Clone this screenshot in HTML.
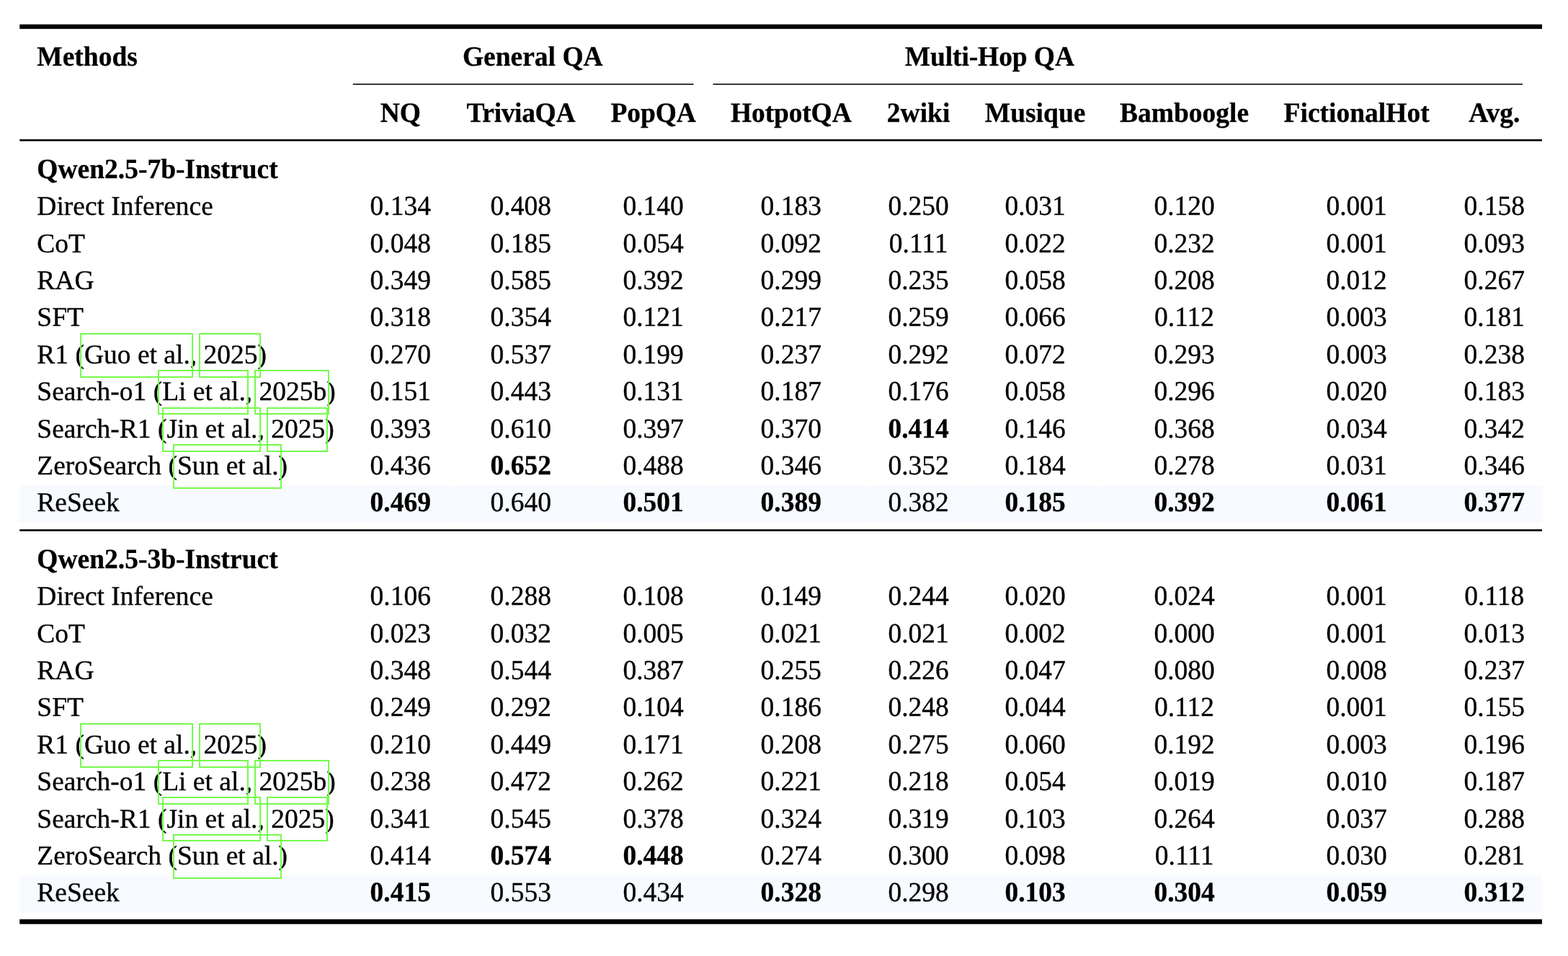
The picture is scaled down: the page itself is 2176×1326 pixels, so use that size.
<!DOCTYPE html>
<html lang="en">
<head>
<meta charset="utf-8">
<title>Results table</title>
<style>
html,body{margin:0;padding:0;background:#fff;width:2176px;height:1326px;overflow:hidden;}
#page{width:2176px;height:1326px;position:relative;overflow:hidden;background:#fff;
 font-family:"Liberation Serif",serif;font-size:37.5px;color:#000;
 text-rendering:geometricPrecision;font-kerning:normal;}
svg.bg{position:absolute;left:0;top:0;}
.t{position:absolute;white-space:pre;line-height:44px;height:44px;-webkit-text-stroke:0.35px #000;transform:scaleY(1.0);transform-origin:0 33px;}
.c{width:300px;text-align:center;}
.n{transform:scaleY(1.02);}
.b{font-weight:bold;-webkit-text-stroke:0.3px #000;transform:scaleY(1.03);}
.g{position:absolute;box-sizing:border-box;border:2px solid #75fb4c;}
</style>
</head>
<body>
<div id="page">
<svg class="bg" width="2176" height="1326" viewBox="0 0 2176 1326">
<rect x="27.25" y="673.3" width="2112.75" height="51.5" fill="#f7fafe"/>
<rect x="489.4" y="673.3" width="1" height="51.5" fill="#fafbfe"/>
<rect x="622" y="673.3" width="1" height="51.5" fill="#fafbfe"/>
<rect x="822.6" y="673.3" width="1" height="51.5" fill="#fafbfe"/>
<rect x="989.6" y="673.3" width="1" height="51.5" fill="#fafbfe"/>
<rect x="1205" y="673.3" width="1" height="51.5" fill="#fafbfe"/>
<rect x="1343.2" y="673.3" width="1" height="51.5" fill="#fafbfe"/>
<rect x="1529" y="673.3" width="1" height="51.5" fill="#fafbfe"/>
<rect x="1757.2" y="673.3" width="1" height="51.5" fill="#fafbfe"/>
<rect x="2007.2" y="673.3" width="1" height="51.5" fill="#fafbfe"/>
<rect x="27.25" y="1214.4" width="2112.75" height="51.3" fill="#f7fafe"/>
<rect x="489.4" y="1214.4" width="1" height="51.3" fill="#fafbfe"/>
<rect x="622" y="1214.4" width="1" height="51.3" fill="#fafbfe"/>
<rect x="822.6" y="1214.4" width="1" height="51.3" fill="#fafbfe"/>
<rect x="989.6" y="1214.4" width="1" height="51.3" fill="#fafbfe"/>
<rect x="1205" y="1214.4" width="1" height="51.3" fill="#fafbfe"/>
<rect x="1343.2" y="1214.4" width="1" height="51.3" fill="#fafbfe"/>
<rect x="1529" y="1214.4" width="1" height="51.3" fill="#fafbfe"/>
<rect x="1757.2" y="1214.4" width="1" height="51.3" fill="#fafbfe"/>
<rect x="2007.2" y="1214.4" width="1" height="51.3" fill="#fafbfe"/>
<rect x="27.25" y="33.8" width="2112.75" height="6.3" fill="#000"/>
<rect x="489.75" y="116" width="472.85" height="1.55" fill="#000"/>
<rect x="989.5" y="116" width="1123.5" height="1.55" fill="#000"/>
<rect x="27.25" y="193.2" width="2112.75" height="2.6" fill="#000"/>
<rect x="27.25" y="734.2" width="2112.75" height="2.6" fill="#000"/>
<rect x="27.25" y="1275.1" width="2112.75" height="6.6" fill="#000"/>
</svg>
<div class="t b" style="left:51.3px;top:58px">Methods</div>
<div class="t c b" style="left:589.3px;top:58px">General QA</div>
<div class="t c b" style="left:1223.3px;top:58px;letter-spacing:-0.1px">Multi-Hop QA</div>
<div class="t c b" style="left:405.8px;top:136px">NQ</div>
<div class="t c b" style="left:572.8px;top:136px;letter-spacing:-0.35px">TriviaQA</div>
<div class="t c b" style="left:756.6px;top:136px;letter-spacing:-0.15px">PopQA</div>
<div class="t c b" style="left:947.8px;top:136px;letter-spacing:-0.15px">HotpotQA</div>
<div class="t c b" style="left:1124.6px;top:136px">2wiki</div>
<div class="t c b" style="left:1286.6px;top:136px">Musique</div>
<div class="t c b" style="left:1493.6px;top:136px">Bamboogle</div>
<div class="t c b" style="left:1732.6px;top:136px">FictionalHot</div>
<div class="t c b" style="left:1973.8px;top:136px;width:200px">Avg.</div>
<div class="t b" style="left:51.3px;top:214px">Qwen2.5-7b-Instruct</div>
<div class="t" style="left:51.3px;top:265px">Direct Inference</div>
<div class="t c n" style="left:405.8px;top:265px">0.134</div>
<div class="t c n" style="left:572.8px;top:265px">0.408</div>
<div class="t c n" style="left:756.6px;top:265px">0.140</div>
<div class="t c n" style="left:947.8px;top:265px">0.183</div>
<div class="t c n" style="left:1124.6px;top:265px">0.250</div>
<div class="t c n" style="left:1286.6px;top:265px">0.031</div>
<div class="t c n" style="left:1493.6px;top:265px">0.120</div>
<div class="t c n" style="left:1732.6px;top:265px">0.001</div>
<div class="t c n" style="left:1973.8px;top:265px;width:200px">0.158</div>
<div class="t" style="left:51.3px;top:317px">CoT</div>
<div class="t c n" style="left:405.8px;top:317px">0.048</div>
<div class="t c n" style="left:572.8px;top:317px">0.185</div>
<div class="t c n" style="left:756.6px;top:317px">0.054</div>
<div class="t c n" style="left:947.8px;top:317px">0.092</div>
<div class="t c n" style="left:1124.6px;top:317px">0.111</div>
<div class="t c n" style="left:1286.6px;top:317px">0.022</div>
<div class="t c n" style="left:1493.6px;top:317px">0.232</div>
<div class="t c n" style="left:1732.6px;top:317px">0.001</div>
<div class="t c n" style="left:1973.8px;top:317px;width:200px">0.093</div>
<div class="t" style="left:51.3px;top:368px">RAG</div>
<div class="t c n" style="left:405.8px;top:368px">0.349</div>
<div class="t c n" style="left:572.8px;top:368px">0.585</div>
<div class="t c n" style="left:756.6px;top:368px">0.392</div>
<div class="t c n" style="left:947.8px;top:368px">0.299</div>
<div class="t c n" style="left:1124.6px;top:368px">0.235</div>
<div class="t c n" style="left:1286.6px;top:368px">0.058</div>
<div class="t c n" style="left:1493.6px;top:368px">0.208</div>
<div class="t c n" style="left:1732.6px;top:368px">0.012</div>
<div class="t c n" style="left:1973.8px;top:368px;width:200px">0.267</div>
<div class="t" style="left:51.3px;top:419px">SFT</div>
<div class="t c n" style="left:405.8px;top:419px">0.318</div>
<div class="t c n" style="left:572.8px;top:419px">0.354</div>
<div class="t c n" style="left:756.6px;top:419px">0.121</div>
<div class="t c n" style="left:947.8px;top:419px">0.217</div>
<div class="t c n" style="left:1124.6px;top:419px">0.259</div>
<div class="t c n" style="left:1286.6px;top:419px">0.066</div>
<div class="t c n" style="left:1493.6px;top:419px">0.112</div>
<div class="t c n" style="left:1732.6px;top:419px">0.003</div>
<div class="t c n" style="left:1973.8px;top:419px;width:200px">0.181</div>
<div class="t" style="left:51.3px;top:471px">R1 (Guo et al., 2025)</div>
<div class="t c n" style="left:405.8px;top:471px">0.270</div>
<div class="t c n" style="left:572.8px;top:471px">0.537</div>
<div class="t c n" style="left:756.6px;top:471px">0.199</div>
<div class="t c n" style="left:947.8px;top:471px">0.237</div>
<div class="t c n" style="left:1124.6px;top:471px">0.292</div>
<div class="t c n" style="left:1286.6px;top:471px">0.072</div>
<div class="t c n" style="left:1493.6px;top:471px">0.293</div>
<div class="t c n" style="left:1732.6px;top:471px">0.003</div>
<div class="t c n" style="left:1973.8px;top:471px;width:200px">0.238</div>
<div class="t" style="left:51.3px;top:522px">Search-o1 (Li et al., 2025b)</div>
<div class="t c n" style="left:405.8px;top:522px">0.151</div>
<div class="t c n" style="left:572.8px;top:522px">0.443</div>
<div class="t c n" style="left:756.6px;top:522px">0.131</div>
<div class="t c n" style="left:947.8px;top:522px">0.187</div>
<div class="t c n" style="left:1124.6px;top:522px">0.176</div>
<div class="t c n" style="left:1286.6px;top:522px">0.058</div>
<div class="t c n" style="left:1493.6px;top:522px">0.296</div>
<div class="t c n" style="left:1732.6px;top:522px">0.020</div>
<div class="t c n" style="left:1973.8px;top:522px;width:200px">0.183</div>
<div class="t" style="left:51.3px;top:574px">Search-R1 (Jin et al., 2025)</div>
<div class="t c n" style="left:405.8px;top:574px">0.393</div>
<div class="t c n" style="left:572.8px;top:574px">0.610</div>
<div class="t c n" style="left:756.6px;top:574px">0.397</div>
<div class="t c n" style="left:947.8px;top:574px">0.370</div>
<div class="t c n b" style="left:1124.6px;top:574px">0.414</div>
<div class="t c n" style="left:1286.6px;top:574px">0.146</div>
<div class="t c n" style="left:1493.6px;top:574px">0.368</div>
<div class="t c n" style="left:1732.6px;top:574px">0.034</div>
<div class="t c n" style="left:1973.8px;top:574px;width:200px">0.342</div>
<div class="t" style="left:51.3px;top:625px">ZeroSearch (Sun et al.)</div>
<div class="t c n" style="left:405.8px;top:625px">0.436</div>
<div class="t c n b" style="left:572.8px;top:625px">0.652</div>
<div class="t c n" style="left:756.6px;top:625px">0.488</div>
<div class="t c n" style="left:947.8px;top:625px">0.346</div>
<div class="t c n" style="left:1124.6px;top:625px">0.352</div>
<div class="t c n" style="left:1286.6px;top:625px">0.184</div>
<div class="t c n" style="left:1493.6px;top:625px">0.278</div>
<div class="t c n" style="left:1732.6px;top:625px">0.031</div>
<div class="t c n" style="left:1973.8px;top:625px;width:200px">0.346</div>
<div class="t" style="left:51.3px;top:676px">ReSeek</div>
<div class="t c n b" style="left:405.8px;top:676px">0.469</div>
<div class="t c n" style="left:572.8px;top:676px">0.640</div>
<div class="t c n b" style="left:756.6px;top:676px">0.501</div>
<div class="t c n b" style="left:947.8px;top:676px">0.389</div>
<div class="t c n" style="left:1124.6px;top:676px">0.382</div>
<div class="t c n b" style="left:1286.6px;top:676px">0.185</div>
<div class="t c n b" style="left:1493.6px;top:676px">0.392</div>
<div class="t c n b" style="left:1732.6px;top:676px">0.061</div>
<div class="t c n b" style="left:1973.8px;top:676px;width:200px">0.377</div>
<div class="t b" style="left:51.3px;top:755px">Qwen2.5-3b-Instruct</div>
<div class="t" style="left:51.3px;top:806px">Direct Inference</div>
<div class="t c n" style="left:405.8px;top:806px">0.106</div>
<div class="t c n" style="left:572.8px;top:806px">0.288</div>
<div class="t c n" style="left:756.6px;top:806px">0.108</div>
<div class="t c n" style="left:947.8px;top:806px">0.149</div>
<div class="t c n" style="left:1124.6px;top:806px">0.244</div>
<div class="t c n" style="left:1286.6px;top:806px">0.020</div>
<div class="t c n" style="left:1493.6px;top:806px">0.024</div>
<div class="t c n" style="left:1732.6px;top:806px">0.001</div>
<div class="t c n" style="left:1973.8px;top:806px;width:200px">0.118</div>
<div class="t" style="left:51.3px;top:858px">CoT</div>
<div class="t c n" style="left:405.8px;top:858px">0.023</div>
<div class="t c n" style="left:572.8px;top:858px">0.032</div>
<div class="t c n" style="left:756.6px;top:858px">0.005</div>
<div class="t c n" style="left:947.8px;top:858px">0.021</div>
<div class="t c n" style="left:1124.6px;top:858px">0.021</div>
<div class="t c n" style="left:1286.6px;top:858px">0.002</div>
<div class="t c n" style="left:1493.6px;top:858px">0.000</div>
<div class="t c n" style="left:1732.6px;top:858px">0.001</div>
<div class="t c n" style="left:1973.8px;top:858px;width:200px">0.013</div>
<div class="t" style="left:51.3px;top:909px">RAG</div>
<div class="t c n" style="left:405.8px;top:909px">0.348</div>
<div class="t c n" style="left:572.8px;top:909px">0.544</div>
<div class="t c n" style="left:756.6px;top:909px">0.387</div>
<div class="t c n" style="left:947.8px;top:909px">0.255</div>
<div class="t c n" style="left:1124.6px;top:909px">0.226</div>
<div class="t c n" style="left:1286.6px;top:909px">0.047</div>
<div class="t c n" style="left:1493.6px;top:909px">0.080</div>
<div class="t c n" style="left:1732.6px;top:909px">0.008</div>
<div class="t c n" style="left:1973.8px;top:909px;width:200px">0.237</div>
<div class="t" style="left:51.3px;top:960px">SFT</div>
<div class="t c n" style="left:405.8px;top:960px">0.249</div>
<div class="t c n" style="left:572.8px;top:960px">0.292</div>
<div class="t c n" style="left:756.6px;top:960px">0.104</div>
<div class="t c n" style="left:947.8px;top:960px">0.186</div>
<div class="t c n" style="left:1124.6px;top:960px">0.248</div>
<div class="t c n" style="left:1286.6px;top:960px">0.044</div>
<div class="t c n" style="left:1493.6px;top:960px">0.112</div>
<div class="t c n" style="left:1732.6px;top:960px">0.001</div>
<div class="t c n" style="left:1973.8px;top:960px;width:200px">0.155</div>
<div class="t" style="left:51.3px;top:1012px">R1 (Guo et al., 2025)</div>
<div class="t c n" style="left:405.8px;top:1012px">0.210</div>
<div class="t c n" style="left:572.8px;top:1012px">0.449</div>
<div class="t c n" style="left:756.6px;top:1012px">0.171</div>
<div class="t c n" style="left:947.8px;top:1012px">0.208</div>
<div class="t c n" style="left:1124.6px;top:1012px">0.275</div>
<div class="t c n" style="left:1286.6px;top:1012px">0.060</div>
<div class="t c n" style="left:1493.6px;top:1012px">0.192</div>
<div class="t c n" style="left:1732.6px;top:1012px">0.003</div>
<div class="t c n" style="left:1973.8px;top:1012px;width:200px">0.196</div>
<div class="t" style="left:51.3px;top:1063px">Search-o1 (Li et al., 2025b)</div>
<div class="t c n" style="left:405.8px;top:1063px">0.238</div>
<div class="t c n" style="left:572.8px;top:1063px">0.472</div>
<div class="t c n" style="left:756.6px;top:1063px">0.262</div>
<div class="t c n" style="left:947.8px;top:1063px">0.221</div>
<div class="t c n" style="left:1124.6px;top:1063px">0.218</div>
<div class="t c n" style="left:1286.6px;top:1063px">0.054</div>
<div class="t c n" style="left:1493.6px;top:1063px">0.019</div>
<div class="t c n" style="left:1732.6px;top:1063px">0.010</div>
<div class="t c n" style="left:1973.8px;top:1063px;width:200px">0.187</div>
<div class="t" style="left:51.3px;top:1115px">Search-R1 (Jin et al., 2025)</div>
<div class="t c n" style="left:405.8px;top:1115px">0.341</div>
<div class="t c n" style="left:572.8px;top:1115px">0.545</div>
<div class="t c n" style="left:756.6px;top:1115px">0.378</div>
<div class="t c n" style="left:947.8px;top:1115px">0.324</div>
<div class="t c n" style="left:1124.6px;top:1115px">0.319</div>
<div class="t c n" style="left:1286.6px;top:1115px">0.103</div>
<div class="t c n" style="left:1493.6px;top:1115px">0.264</div>
<div class="t c n" style="left:1732.6px;top:1115px">0.037</div>
<div class="t c n" style="left:1973.8px;top:1115px;width:200px">0.288</div>
<div class="t" style="left:51.3px;top:1166px">ZeroSearch (Sun et al.)</div>
<div class="t c n" style="left:405.8px;top:1166px">0.414</div>
<div class="t c n b" style="left:572.8px;top:1166px">0.574</div>
<div class="t c n b" style="left:756.6px;top:1166px">0.448</div>
<div class="t c n" style="left:947.8px;top:1166px">0.274</div>
<div class="t c n" style="left:1124.6px;top:1166px">0.300</div>
<div class="t c n" style="left:1286.6px;top:1166px">0.098</div>
<div class="t c n" style="left:1493.6px;top:1166px">0.111</div>
<div class="t c n" style="left:1732.6px;top:1166px">0.030</div>
<div class="t c n" style="left:1973.8px;top:1166px;width:200px">0.281</div>
<div class="t" style="left:51.3px;top:1217px">ReSeek</div>
<div class="t c n b" style="left:405.8px;top:1217px">0.415</div>
<div class="t c n" style="left:572.8px;top:1217px">0.553</div>
<div class="t c n" style="left:756.6px;top:1217px">0.434</div>
<div class="t c n b" style="left:947.8px;top:1217px">0.328</div>
<div class="t c n" style="left:1124.6px;top:1217px">0.298</div>
<div class="t c n b" style="left:1286.6px;top:1217px">0.103</div>
<div class="t c n b" style="left:1493.6px;top:1217px">0.304</div>
<div class="t c n b" style="left:1732.6px;top:1217px">0.059</div>
<div class="t c n b" style="left:1973.8px;top:1217px;width:200px">0.312</div>
<div class="g" style="left:111px;top:462px;width:157px;height:62px"></div>
<div class="g" style="left:276px;top:462px;width:86px;height:62px"></div>
<div class="g" style="left:219px;top:513px;width:126px;height:62px"></div>
<div class="g" style="left:353px;top:513px;width:104px;height:62px"></div>
<div class="g" style="left:225px;top:565px;width:137px;height:62px"></div>
<div class="g" style="left:370px;top:565px;width:85px;height:62px"></div>
<div class="g" style="left:240px;top:616px;width:151px;height:62px"></div>
<div class="g" style="left:111px;top:1003px;width:157px;height:62px"></div>
<div class="g" style="left:276px;top:1003px;width:86px;height:62px"></div>
<div class="g" style="left:219px;top:1054px;width:126px;height:62px"></div>
<div class="g" style="left:353px;top:1054px;width:104px;height:62px"></div>
<div class="g" style="left:225px;top:1105px;width:137px;height:62px"></div>
<div class="g" style="left:370px;top:1105px;width:85px;height:62px"></div>
<div class="g" style="left:240px;top:1157px;width:151px;height:62px"></div>
</div>
</body>
</html>
